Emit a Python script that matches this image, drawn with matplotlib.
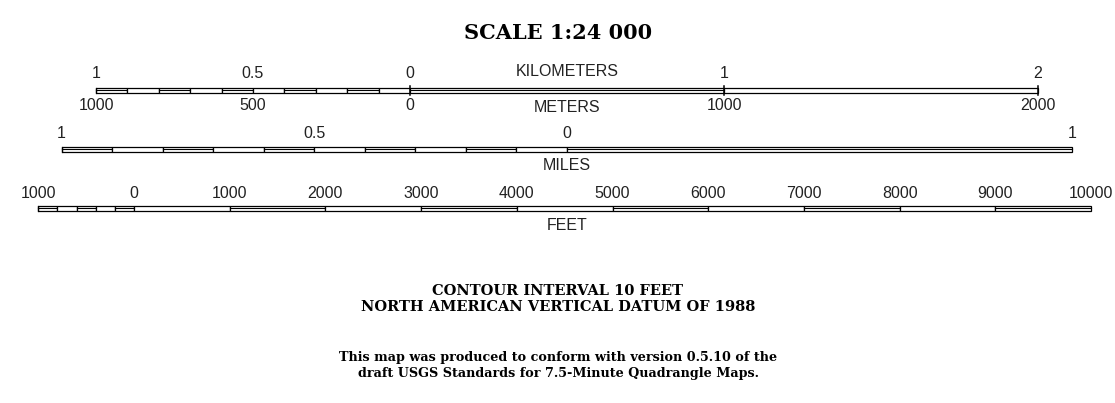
import numpy as np
import matplotlib.pyplot as plt
from matplotlib.patches import Rectangle

# escalas (tudo convertido para km)
KM_PER_MILE = 1.609344
KM_PER_FOOT = 0.0003048

km_edges = [-1.0, -0.9, -0.8, -0.7, -0.6, -0.5, -0.4, -0.3, -0.2, -0.1, 0.0, 1.0, 2.0]
km_fill = [1, 0, 1, 0, 1, 0, 1, 0, 1, 0, 1, 0]
km_top_pos = [-1, -0.5, 0, 1, 2]
km_top_labels = ['1', '0.5', '0', '1', '2']
m_bot_labels = ['1000', '500', '0', '1000', '2000']

mi_edges = [-1.0, -0.9, -0.8, -0.7, -0.6, -0.5, -0.4, -0.3, -0.2, -0.1, 0.0, 1.0]
mi_fill = [1, 0, 1, 0, 1, 0, 1, 0, 1, 0, 1]
mi_pos = [-1, -0.5, 0, 1]
mi_labels = ['1', '0.5', '0', '1']

ft_edges = [-1000, -800, -600, -400, -200, 0, 1000, 2000, 3000, 4000, 5000,
            6000, 7000, 8000, 9000, 10000]
ft_fill = [1, 0, 1, 0, 1, 0, 1, 0, 1, 0, 1, 0, 1, 0, 1]
ft_pos = [-1000, 0, 1000, 2000, 3000, 4000, 5000, 6000, 7000, 8000, 9000, 10000]
ft_labels = ['1000', '0', '1000', '2000', '3000', '4000', '5000', '6000',
             '7000', '8000', '9000', '10000']

notes1 = ['CONTOUR INTERVAL 10 FEET', 'NORTH AMERICAN VERTICAL DATUM OF 1988']
notes2 = ['This map was produced to conform with version 0.5.10 of the',
          'draft USGS Standards for 7.5-Minute Quadrangle Maps.']

W, H = 1115, 403
x0, px_km = 410.0, 314.0  # posicao do zero e pixels por km

fig = plt.figure(figsize=(W / 100, H / 100), dpi=100)
ax = fig.add_axes([0, 0, 1, 1])
ax.set_xlim(-x0 / px_km, (W - x0) / px_km)
ax.set_ylim(H, 0)
ax.axis('off')

cond = ['Liberation Sans', 'DejaVu Sans']
serif = ['DejaVu Serif']
lw = 0.9
fs = 11.5
tc = '#222222'


def barra(edges, fill, y, h=5.5):
    for i in range(len(edges) - 1):
        a, b = edges[i], edges[i + 1]
        ax.add_patch(Rectangle((a, y), b - a, h, facecolor='white',
                               edgecolor='black', lw=lw))
        if fill[i]:
            ax.plot([a, b], [y + h / 2, y + h / 2], color='black', lw=0.8)
    ax.plot([edges[0], edges[0]], [y, y + h], color='black', lw=lw)


ax.text((558 - x0) / px_km, 33, 'SCALE 1:24 000', ha='center', va='center',
        fontsize=15, fontweight='bold', family=serif)

# quilometros / metros
y_km = 87.5
barra(km_edges, km_fill, y_km)
for p in [0, 1, 2]:
    ax.plot([p, p], [y_km - 1.5, y_km + 7], color='black', lw=1.1)
for p, t in zip(km_top_pos, km_top_labels):
    ax.text(p, 74, t, ha='center', va='center', fontsize=fs, family=cond, color=tc)
for p, t in zip(km_top_pos, m_bot_labels):
    ax.text(p, 106, t, ha='center', va='center', fontsize=fs, family=cond, color=tc)
ax.text((567 - x0) / px_km, 72, 'KILOMETERS', ha='center',
        va='center', fontsize=fs, family=cond, color=tc)
ax.text((567 - x0) / px_km, 107, 'METERS', ha='center', va='center',
        fontsize=fs, family=cond, color=tc)

# milhas
y_mi = 146.5
mi_off = (567 - x0) / px_km
barra([mi_off + e * KM_PER_MILE for e in mi_edges], mi_fill, y_mi)
for p, t in zip(mi_pos, mi_labels):
    ax.text(mi_off + p * KM_PER_MILE, 133, t, ha='center', va='center',
            fontsize=fs, family=cond, color=tc)
ax.text(mi_off, 166, 'MILES', ha='center', va='center', fontsize=fs,
        family=cond, color=tc)

# pes
y_ft = 205.5
ft_off = (134 - x0) / px_km
barra([ft_off + e * KM_PER_FOOT for e in ft_edges], ft_fill, y_ft)
for p, t in zip(ft_pos, ft_labels):
    ax.text(ft_off + p * KM_PER_FOOT, 193, t, ha='center', va='center',
            fontsize=fs, family=cond, color=tc)
ax.text(mi_off, 226, 'FEET', ha='center', va='center', fontsize=fs,
        family=cond, color=tc)

xc = (558 - x0) / px_km
for i, t in enumerate(notes1):
    ax.text(xc, 291 + 16 * i, t, ha='center', va='center', fontsize=10.5,
            fontweight='bold', family=serif)
for i, t in enumerate(notes2):
    ax.text(xc, 358 + 16 * i, t, ha='center', va='center', fontsize=9.2,
            fontweight='bold', family=serif)

fig.savefig('out.png', dpi=100)
